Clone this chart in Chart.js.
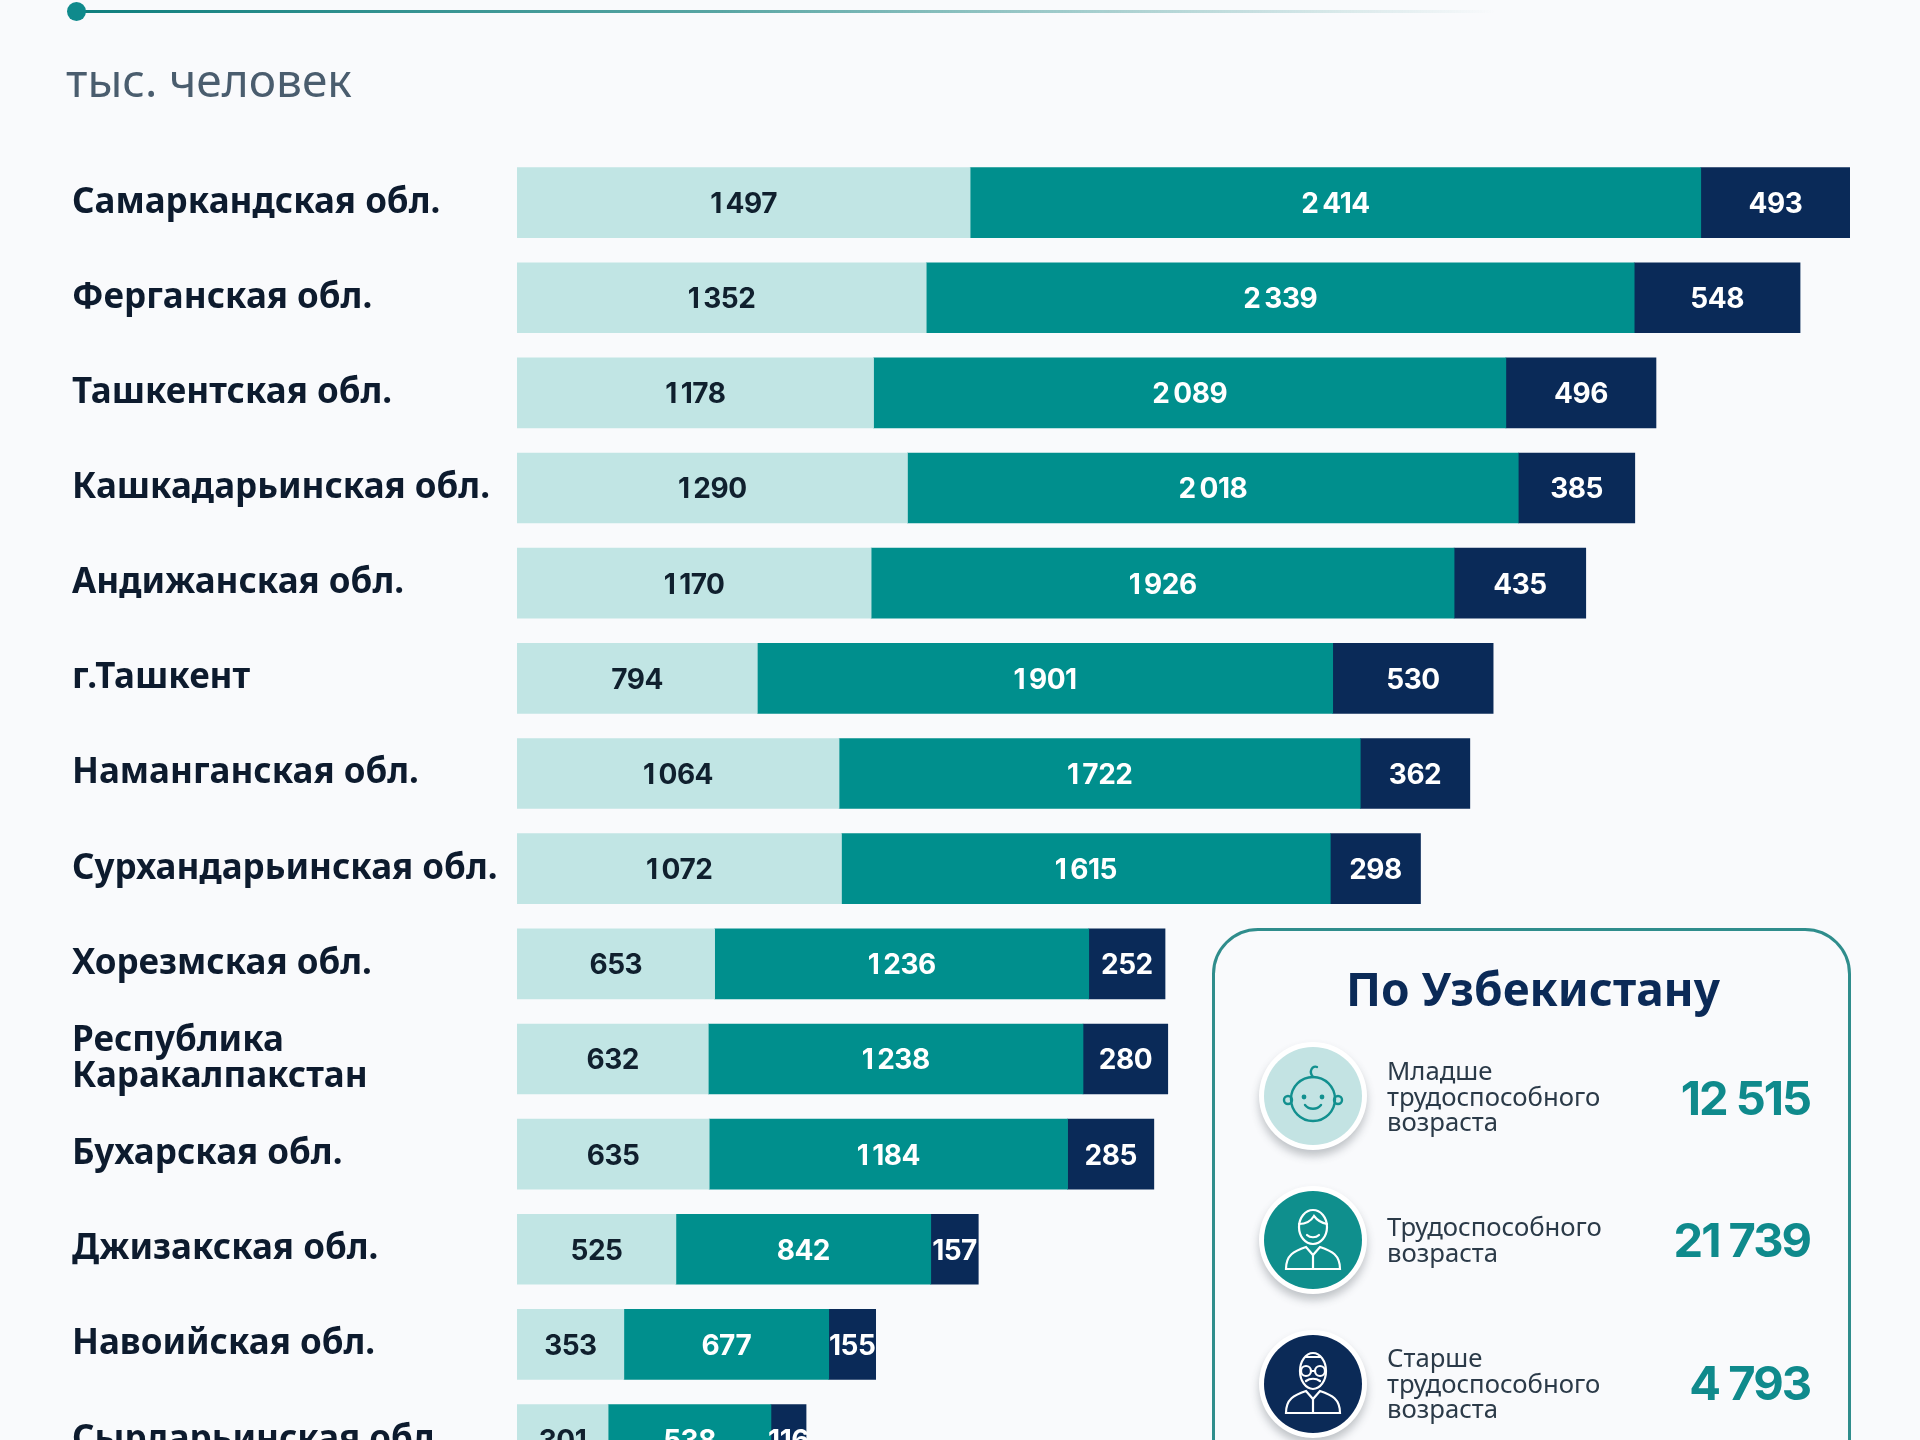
<!DOCTYPE html>
<html lang="ru">
<head>
<meta charset="utf-8">
<title>По Узбекистану</title>
<script src="https://cdn.jsdelivr.net/npm/chart.js@4"></script>
<style>
html, body { margin: 0; padding: 0; width: 1920px; height: 1440px; overflow: hidden; background: #f9fafc; }
#page { position: relative; width: 1920px; height: 1440px; overflow: hidden; font-family: "Noto Sans", sans-serif; }
#chartBox { position: absolute; left: 0; top: 0; width: 1920px; height: 1505px; }
#topLine { position: absolute; left: 76px; top: 10px; width: 1420px; height: 3px; background: linear-gradient(90deg, #0f7f7e 0%, #58a5a3 45%, rgba(200,215,215,0) 100%); }
#topDot { position: absolute; left: 67px; top: 2px; width: 19px; height: 19px; border-radius: 50%; background: #0f8a8c; }
#unit { position: absolute; left: 66px; top: 49px; font-size: 46px; line-height: 60px; color: #4a5d6e; }
#panel { position: absolute; left: 1212px; top: 928px; width: 633px; height: 600px; border: 3px solid #2f8d8c; border-radius: 46px; background: #f9fafc; }
#panelTitle { position: absolute; left: 1212px; width: 642px; top: 958px; text-align: center; font-size: 46px; line-height: 60px; font-weight: 700; color: #0b2a57; }
.ring { position: absolute; left: 1259px; width: 108px; height: 108px; border-radius: 50%; background: #fff; box-shadow: 0 6px 8px rgba(60,70,80,.3); }
.ring svg { position: absolute; left: 5px; top: 5px; width: 98px; height: 98px; }
.rowText { position: absolute; left: 1387px; font-size: 25.7px; line-height: 25.7px; color: #2b3a48; }
.rowNum { position: absolute; right: 110px; font-family: Inter, sans-serif; font-weight: 700; font-size: 47px; line-height: 56px; letter-spacing: -2px; color: #0f8a8c; }
</style>
</head>
<body>
<div id="page">
  <div id="chartBox"><canvas id="populationChart"></canvas></div>
  <div id="topLine"></div>
  <div id="topDot"></div>
  <div id="unit">тыс. человек</div>
  <div id="panel"></div>
  <div id="panelTitle">По Узбекистану</div>

  <div class="ring" style="top:1042px">
    <svg viewBox="0 0 98 98"><circle cx="49" cy="49" r="49" fill="#c3e3e3"/>
      <g fill="none" stroke="#12908f" stroke-width="2.4" stroke-linecap="round">
        <circle cx="49" cy="52" r="22"/><circle cx="24" cy="53" r="4"/><circle cx="74" cy="53" r="4"/>
        <path d="M49 30c-5-6 0-12 4-10"/><path d="M41 58c4 5 12 5 16 0"/>
      </g>
      <circle cx="40" cy="50" r="2.4" fill="#12908f"/><circle cx="58" cy="50" r="2.4" fill="#12908f"/></svg>
  </div>
  <div class="ring" style="top:1186px">
    <svg viewBox="0 0 98 98"><circle cx="49" cy="49" r="49" fill="#0f8f8d"/>
      <g fill="none" stroke="#fff" stroke-width="2.2" stroke-linecap="round">
        <ellipse cx="49" cy="36" rx="14" ry="17"/><path d="M35 33c6 0 12-3 15-8 3 4 8 7 13 8"/>
        <path d="M43 44c3 3 9 3 12 0"/><path d="M22 78c0-14 8-18 20-22l7 8 7-8c12 4 20 8 20 22z"/>
        <path d="M49 64v14"/>
      </g></svg>
  </div>
  <div class="ring" style="top:1330px">
    <svg viewBox="0 0 98 98"><circle cx="49" cy="49" r="49" fill="#0b2a57"/>
      <g fill="none" stroke="#fff" stroke-width="2.2" stroke-linecap="round">
        <ellipse cx="49" cy="36" rx="13" ry="18"/><circle cx="42" cy="36" r="5"/><circle cx="56" cy="36" r="5"/>
        <path d="M47 36h4"/><path d="M42 46c4-3 10-3 14 0"/><path d="M42 22h14"/>
        <path d="M22 78c0-14 8-18 20-22l7 8 7-8c12 4 20 8 20 22z"/><path d="M49 64v14"/>
      </g></svg>
  </div>

  <div class="rowText" style="top:1058px">Младше<br>трудоспособного<br>возраста</div>
  <div class="rowText" style="top:1214px">Трудоспособного<br>возраста</div>
  <div class="rowText" style="top:1345px">Старше<br>трудоспособного<br>возраста</div>
  <div class="rowNum" id="totalYoung" style="top:1070px"></div>
  <div class="rowNum" id="totalWork" style="top:1212px"></div>
  <div class="rowNum" id="totalOld" style="top:1355px"></div>
</div>

<script>
// Данные
const regions = [
    'Самаркандская обл.', 'Ферганская обл.', 'Ташкентская обл.', 'Кашкадарьинская обл.',
    'Андижанская обл.', 'г.Ташкент', 'Наманганская обл.', 'Сурхандарьинская обл.',
    'Хорезмская обл.', ['Республика', 'Каракалпакстан'], 'Бухарская обл.', 'Джизакская обл.',
    'Навоийская обл.', 'Сырдарьинская обл.'
];
const youngValues = [1497, 1352, 1178, 1290, 1170, 794, 1064, 1072, 653, 632, 635, 525, 353, 301];
const workValues = [2414, 2339, 2089, 2018, 1926, 1901, 1722, 1615, 1236, 1238, 1184, 842, 677, 538];
const oldValues = [493, 548, 496, 385, 435, 530, 362, 298, 252, 280, 285, 157, 155, 116];
const totals = [12515, 21739, 4793];

// Разделитель тысяч
function formatValue(value, separator) {
    return String(value).replace(/\B(?=(\d{3})+$)/g, separator);
}

document.getElementById('totalYoung').textContent = formatValue(totals[0], ' ');
document.getElementById('totalWork').textContent = formatValue(totals[1], ' ');
document.getElementById('totalOld').textContent = formatValue(totals[2], ' ');

// Подписи значений внутри сегментов
const valueLabels = {
    id: 'valueLabels',
    afterDatasetsDraw(chart) {
        const ctx = chart.ctx;
        ctx.save();
        ctx.font = '700 28px Inter, sans-serif';
        ctx.letterSpacing = '-0.5px';
        ctx.textAlign = 'center';
        ctx.textBaseline = 'middle';
        chart.data.datasets.forEach((dataset, i) => {
            ctx.fillStyle = dataset.labelColor;
            chart.getDatasetMeta(i).data.forEach((bar, j) => {
                const center = bar.getCenterPoint();
                ctx.fillText(formatValue(dataset.data[j], '\u2009'), center.x, center.y + 2);
            });
        });
        ctx.restore();
    }
};

new Chart(document.getElementById('populationChart'), {
    type: 'bar',
    data: {
        labels: regions,
        datasets: [
            { label: 'Младше трудоспособного возраста', data: youngValues, backgroundColor: '#c1e5e4', labelColor: '#10202e' },
            { label: 'Трудоспособного возраста', data: workValues, backgroundColor: '#008f8d', labelColor: '#ffffff' },
            { label: 'Старше трудоспособного возраста', data: oldValues, backgroundColor: '#0a2a58', labelColor: '#ffffff' }
        ]
    },
    options: {
        indexAxis: 'y',
        responsive: true,
        maintainAspectRatio: false,
        animation: false,
        layout: { padding: { left: 72, right: 70, top: 155, bottom: 0 } },
        datasets: { bar: { barThickness: 70 } },
        plugins: { legend: { display: false }, tooltip: { enabled: false } },
        scales: {
            x: { stacked: true, display: false, min: 0, max: 4404 },
            y: {
                stacked: true,
                grid: { display: false, drawBorder: false },
                border: { display: false },
                afterFit(scale) { scale.width = 445; },
                ticks: {
                    crossAlign: 'far',
                    padding: 0,
                    autoSkip: false,
                    color: '#0d1b2e',
                    font: { family: '"Noto Sans"', size: 35, weight: '700', lineHeight: 1.02 }
                }
            }
        }
    },
    plugins: [valueLabels]
});
</script>
</body>
</html>
